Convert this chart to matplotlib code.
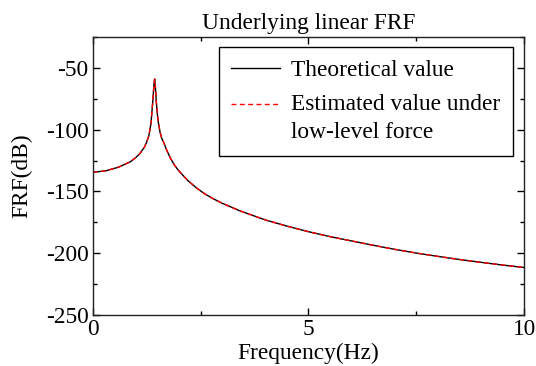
import matplotlib
matplotlib.use("Agg")
import matplotlib.pyplot as plt
from matplotlib.ticker import MultipleLocator
from matplotlib.legend_handler import HandlerLine2D

plt.rcParams['font.family'] = ['Liberation Serif', 'DejaVu Serif']
plt.rcParams['axes.unicode_minus'] = False

# Values
freq_hz = [0.0, 0.3, 0.6, 0.87, 1.0, 1.1, 1.2, 1.25, 1.3, 1.35, 1.39, 1.42, 1.435,
           1.45, 1.47, 1.5, 1.52, 1.56, 1.6, 1.64, 1.72, 1.8, 1.9, 2.0, 2.2, 2.4,
           2.6, 2.8, 3.0, 3.4, 4.0, 4.5, 5.0, 5.5, 6.0, 6.5, 7.0, 7.5, 8.0, 8.5,
           9.0, 9.5, 10.0]
frf_theory = [-134.5, -133.3, -130.3, -126.0, -122.5, -119.0, -114.0, -110.0, -105.0,
              -95.0, -78.0, -63.0, -59.0, -64.0, -76.0, -88.0, -94.0, -102.0, -107.0,
              -110.0, -117.0, -123.0, -129.0, -133.5, -141.0, -147.0, -152.0, -156.0,
              -159.5, -165.5, -173.0, -178.0, -182.5, -186.5, -190.0, -193.5, -196.8,
              -199.8, -202.5, -205.0, -207.3, -209.5, -211.5]
frf_estimated = list(frf_theory)

title_text = "Underlying linear FRF"
xlabel_text = "Frequency(Hz)"
ylabel_text = "FRF(dB)"
labels = ["Theoretical value", "Estimated value under\nlow-level force"]


class TopAlignedLine(HandlerLine2D):
    """Place the legend line next to the first text line of a two-line label."""
    def __init__(self, shift, **kw):
        super().__init__(**kw)
        self.shift = shift

    def create_artists(self, legend, orig_handle, xdescent, ydescent, width,
                       height, fontsize, trans):
        arts = super().create_artists(legend, orig_handle, xdescent, ydescent,
                                      width, height, fontsize, trans)
        for a in arts:
            if hasattr(a, 'get_ydata'):
                a.set_ydata([y + self.shift for y in a.get_ydata()])
        return arts


fs = 16.8
fig = plt.figure(figsize=(5.36, 3.66), dpi=100)
ax = fig.add_axes([0.173, 0.139, 0.805, 0.760])

l1, = ax.plot(freq_hz, frf_theory, color='black', lw=1.0, label=labels[0])
l2, = ax.plot(freq_hz, frf_estimated, color='red', lw=1.0, ls=(0, (3.5, 2.5)), label=labels[1])

ax.set_xlim(0, 10)
ax.set_ylim(-250, -25)
ax.xaxis.set_major_locator(MultipleLocator(5))
ax.xaxis.set_minor_locator(MultipleLocator(2.5))
ax.yaxis.set_major_locator(MultipleLocator(50))
ax.yaxis.set_minor_locator(MultipleLocator(25))
ax.tick_params(which='both', direction='in', top=True, right=True, labelsize=fs,
               width=1.0)
ax.tick_params(axis='x', which='both', pad=3)
ax.tick_params(axis='y', which='both', pad=3)
ax.tick_params(which='major', length=5)
ax.tick_params(which='minor', length=3)
for s in ax.spines.values():
    s.set_linewidth(1.0)
    s.set_color('#222222')

ax.set_title(title_text, fontsize=fs, pad=6)
ax.set_xlabel(xlabel_text, fontsize=fs, labelpad=2)
ax.set_ylabel(ylabel_text, fontsize=fs, labelpad=10)

leg = ax.legend(handles=[l1, l2], labels=labels,
                handler_map={l2: TopAlignedLine(shift=0.6 * fs)},
                loc='upper right', bbox_to_anchor=(513/536, 1 - 47/366),
                bbox_transform=fig.transFigure, borderaxespad=0, fontsize=fs,
                fancybox=False, framealpha=1, edgecolor='black',
                handlelength=2.1, handletextpad=0.45, borderpad=0.55, labelspacing=0.55)
leg.get_frame().set_linewidth(1.0)
for t in leg.get_texts():
    t.set_linespacing(1.45)

fig.savefig("out.png", dpi=100)
